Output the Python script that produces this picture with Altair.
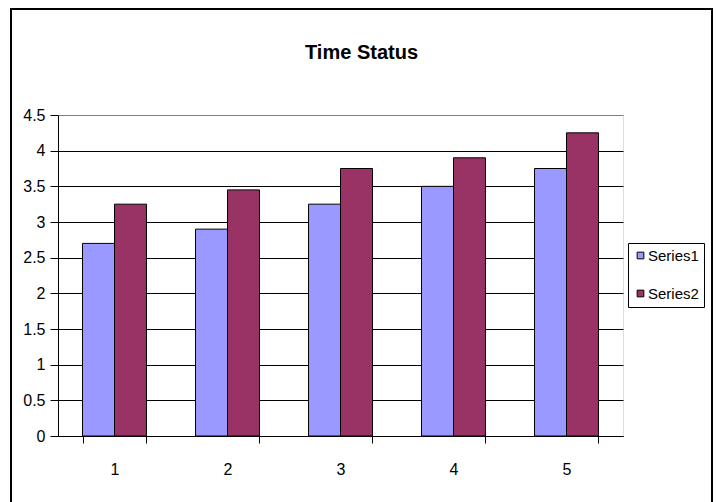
import altair as alt
import pandas as pd

categories = ["1", "2", "3", "4", "5"]
series1 = [2.7, 2.9, 3.25, 3.5, 3.75]
series2 = [3.25, 3.45, 3.75, 3.9, 4.25]
series_names = ["Series1", "Series2"]
colors = ["#9999FF", "#993366"]
y_ticks = [0, 0.5, 1, 1.5, 2, 2.5, 3, 3.5, 4, 4.5]

rows = []
for c, a, b in zip(categories, series1, series2):
    rows.append({"cat": c, "series": "Series1", "value": a})
    rows.append({"cat": c, "series": "Series2", "value": b})
df = pd.DataFrame(rows)

FONT = "Liberation Sans"

bars = alt.Chart(df).mark_bar(stroke="black", strokeWidth=1).encode(
    x=alt.X("cat:O", sort=categories,
            scale=alt.Scale(paddingInner=0.434, paddingOuter=0.217),
            axis=alt.Axis(title=None, labelAngle=0, tickBand="extent",
                          domainColor="black", tickColor="black", tickSize=7,
                          labelPadding=18, labelFontSize=16, labelFont=FONT,
                          labelColor="black", grid=False)),
    xOffset=alt.XOffset("series:N", sort=series_names,
                        scale=alt.Scale(paddingInner=0, paddingOuter=0)),
    y=alt.Y("value:Q", scale=alt.Scale(domain=[0, 4.5], nice=False),
            axis=alt.Axis(title=None, values=y_ticks, format="~g",
                          domainColor="black", tickColor="black", tickSize=8,
                          labelPadding=5, labelFontSize=16, labelFont=FONT,
                          labelColor="black",
                          grid=True,
                          gridColor={"condition": {"test": "datum.value == 4.5", "value": "#808080"}, "value": "black"},
                          gridWidth=1, gridOpacity=1)),
    color=alt.Color("series:N", sort=series_names,
                    scale=alt.Scale(domain=series_names, range=colors),
                    legend=alt.Legend(title=None, orient="none", legendX=570, legendY=128,
                                      strokeColor="black", fillColor="white",
                                      padding=5, symbolType="square", symbolSize=45,
                                      symbolStrokeColor="black", symbolStrokeWidth=1,
                                      labelFontSize=15, labelFont=FONT, labelColor="black",
                                      rowPadding=22, labelOffset=0)),
)

frame = alt.Chart(pd.DataFrame({"k": [0]})).mark_rect(
    fill=None, fillOpacity=0, stroke="black", strokeWidth=2
).encode(
    x=alt.value(-47), x2=alt.value(654), y=alt.value(-106), y2=alt.value(400)
)

chart = alt.layer(frame, bars).properties(
    width=565, height=321,
    title=alt.TitleParams("Time Status", font=FONT, fontSize=20, fontWeight="bold",
                          color="black", anchor="middle", baseline="alphabetic",
                          offset=-26, dx=21, dy=45),
    padding={"left": 58, "top": 115, "right": 94, "bottom": 66},
    autosize=alt.AutoSizeParams(type="none"),
).configure_view(
    fill="#C0C0C0", stroke="#808080", strokeWidth=1
).configure(background="white")

chart.save("out.html", embed_options={"renderer": "svg", "actions": False})
